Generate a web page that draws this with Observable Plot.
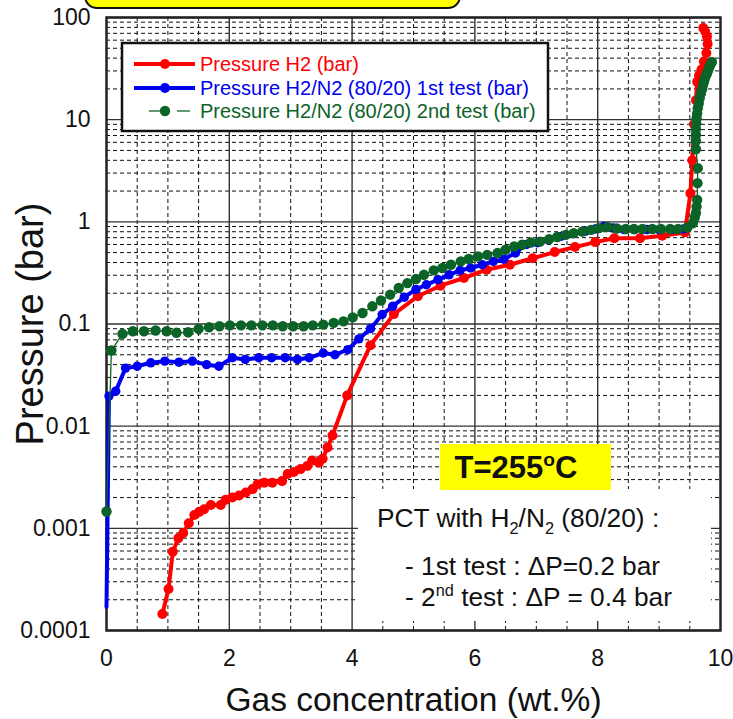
<!DOCTYPE html>
<html>
<head>
<meta charset="utf-8">
<script src="https://cdn.jsdelivr.net/npm/d3@7"></script>
<script src="https://cdn.jsdelivr.net/npm/@observablehq/plot@0.6"></script>
<style>
  html, body { margin: 0; padding: 0; background: #fff; }
  #chart svg { display: block; }
</style>
</head>
<body>
<div id="chart"></div>
<script>
// ---------- data ----------
const redX = [0.91,1.01,1.08,1.17,1.25,1.34,1.43,1.51,1.59,1.70,1.86,1.94,2.05,2.16,2.27,2.38,2.46,2.57,2.70,2.86,2.95,3.05,3.16,3.27,3.35,3.46,3.52,3.60,3.68,3.92,4.30,4.68,5.07,5.44,5.82,6.19,6.57,6.94,7.30,7.63,7.96,8.27,8.69,9.05,9.42,9.51,9.54,9.57,9.60,9.62,9.65,9.69,9.73,9.77,9.79,9.78,9.75,9.72];
const redY = [1.45e-4,2.55e-4,5.9e-4,8.0e-4,9.0e-4,1.12e-3,1.35e-3,1.45e-3,1.54e-3,1.69e-3,1.69e-3,1.9e-3,2.0e-3,2.1e-3,2.24e-3,2.42e-3,2.7e-3,2.8e-3,2.8e-3,2.9e-3,3.4e-3,3.56e-3,3.8e-3,4.07e-3,4.6e-3,4.4e-3,4.8e-3,6.2e-3,8.1e-3,0.020,0.062,0.125,0.187,0.237,0.282,0.34,0.38,0.44,0.506,0.566,0.633,0.69,0.69,0.73,0.786,1.9,4.0,9.0,15.5,23.5,27,31,37,45,55,65,73,79];

const blueX = [0,0.04,0.15,0.31,0.50,0.72,0.95,1.18,1.40,1.63,1.83,2.05,2.26,2.48,2.69,2.91,3.11,3.30,3.53,3.72,3.93,4.11,4.30,4.49,4.66,4.85,5.04,5.21,5.40,5.58,5.76,5.93,6.12,6.30,6.47,6.66,6.84,7.02,7.20,7.40,7.60,7.80,7.96,8.10,8.25,8.43,8.60,8.80,9.00,9.20,9.40];
const blueY = [1.7e-4,0.0197,0.022,0.037,0.0386,0.0417,0.0433,0.0423,0.0433,0.040,0.0386,0.0467,0.045,0.0467,0.0467,0.0467,0.045,0.0467,0.052,0.050,0.056,0.0715,0.09,0.124,0.149,0.183,0.218,0.242,0.272,0.303,0.335,0.353,0.38,0.41,0.43,0.495,0.60,0.625,0.665,0.72,0.765,0.81,0.85,0.90,0.87,0.84,0.84,0.84,0.84,0.84,0.85];

const greenX = [0,0.08,0.26,0.43,0.61,0.80,0.98,1.14,1.33,1.50,1.67,1.84,2.01,2.19,2.36,2.54,2.71,2.87,3.04,3.21,3.36,3.53,3.70,3.86,4.01,4.17,4.33,4.47,4.62,4.76,4.90,5.04,5.17,5.33,5.47,5.61,5.77,5.90,6.05,6.20,6.37,6.50,6.64,6.77,6.91,7.06,7.21,7.34,7.48,7.61,7.75,7.89,8.02,8.16,8.31,8.46,8.59,8.73,8.89,9.03,9.18,9.31,
  9.46,9.55,9.58,9.60,9.61,9.62,9.625,9.63,9.60,9.60,9.60,9.60,9.605,9.61,9.62,9.63,9.645,9.66,9.68,9.70,9.715,9.73,9.745,9.76,9.78,9.80,9.82,9.84,9.86];
const greenY = [0.00146,0.055,0.080,0.085,0.085,0.0863,0.085,0.082,0.083,0.0895,0.093,0.095,0.097,0.097,0.097,0.097,0.097,0.095,0.095,0.095,0.097,0.0986,0.1025,0.106,0.116,0.128,0.149,0.17,0.194,0.225,0.251,0.276,0.303,0.335,0.353,0.38,0.41,0.433,0.458,0.475,0.495,0.533,0.574,0.596,0.628,0.64,0.677,0.71,0.746,0.776,0.804,0.835,0.868,0.89,0.86,0.85,0.85,0.85,0.85,0.85,0.85,0.85,
  0.88,0.97,1.1,1.22,1.41,1.64,2.39,3.35,5.13,6.2,7.07,8.1,9.2,10.3,11.5,12.9,14.4,16.2,18,19.8,21.8,23.5,25.3,27,28.3,30.5,32.9,35,36.7];

const xTicks = [0, 2, 4, 6, 8, 10];
const xTickLabels = ["0", "2", "4", "6", "8", "10"];
const yTicks = [1e-4, 1e-3, 1e-2, 0.1, 1, 10, 100];
const yTickLabels = ["0.0001", "0.001", "0.01", "0.1", "1", "10", "100"];

const seriesNames = [
  "Pressure H2 (bar)",
  "Pressure H2/N2 (80/20) 1st test (bar)",
  "Pressure H2/N2 (80/20) 2nd test (bar)"
];
const xTitle = "Gas concentration (wt.%)";
const yTitle = "Pressure (bar)";
// rich-text parts: [text, "n" normal | "sub" | "sup"]
const tempLabel = [["T=255", "n"], ["o", "sup"], ["C", "n"]];
const noteLines = [
  [["PCT with H", "n"], ["2", "sub"], ["/N", "n"], ["2", "sub"], [" (80/20) :", "n"]],
  [["- 1st test : \u0394P=0.2 bar", "n"]],
  [["- 2", "n"], ["nd", "sup"], [" test : \u0394P = 0.4 bar", "n"]]
];

// ---------- styling ----------
const FONT = "'Liberation Sans', Arial, Helvetica, sans-serif";
const RED = "#ff0000", BLUE = "#0000f0", GREEN = "#0b6327";

const rows = (xs, ys) => xs.map((x, i) => ({x, y: ys[i]}));
const red = rows(redX, redY);
const blue = rows(blueX, blueY);
const green = rows(greenX, greenY);

const yMinor = d3.range(-4, 2).flatMap(e => d3.range(2, 10).map(m => m * Math.pow(10, e)));
const xMinor = d3.range(1, 20).map(k => k / 2).filter(v => v % 2 !== 0);
const xMajor = [2, 4, 6, 8];

const svg = Plot.plot({
  width: 733,
  height: 719,
  marginLeft: 106,
  marginRight: 13,
  marginTop: 17,
  marginBottom: 89,
  x: {domain: [0, 10], axis: null},
  y: {type: "log", domain: [1e-4, 100], axis: null},
  style: {fontFamily: FONT, background: "white", color: "#111"},
  marks: [
    Plot.ruleY(yMinor, {stroke: "#111", strokeWidth: 1, strokeDasharray: "4,3"}),
    Plot.ruleX(xMinor, {stroke: "#111", strokeWidth: 1, strokeDasharray: "4,3"}),
    Plot.ruleY(yTicks, {stroke: "#333", strokeWidth: 1.4}),
    Plot.ruleX(xMajor, {stroke: "#333", strokeWidth: 1.4}),
    Plot.frame({stroke: "#222", strokeWidth: 2.5}),
    Plot.line(red, {x: "x", y: "y", stroke: RED, strokeWidth: 4}),
    Plot.dot(red, {x: "x", y: "y", fill: RED, r: 5}),
    Plot.line(blue, {x: "x", y: "y", stroke: BLUE, strokeWidth: 4}),
    Plot.dot(blue.slice(1), {x: "x", y: "y", fill: BLUE, r: 4.7}),
    Plot.line(green, {x: "x", y: "y", stroke: GREEN, strokeWidth: 1.3}),
    Plot.dot(green, {x: "x", y: "y", fill: GREEN, r: 5.2}),
    Plot.text(yTicks, {y: d => d, text: (d, i) => yTickLabels[i], frameAnchor: "left", textAnchor: "end", lineAnchor: "middle", dx: -16, fontSize: 23, fill: "#111"}),
    Plot.text(xTicks, {x: d => d, text: (d, i) => xTickLabels[i], frameAnchor: "bottom", textAnchor: "middle", lineAnchor: "middle", dy: 28, fontSize: 23, fill: "#111"}),
    Plot.text([xTitle], {text: d => d, frameAnchor: "bottom", textAnchor: "middle", lineAnchor: "middle", dy: 70, fontSize: 33.5, fill: "#111"}),
    Plot.text([yTitle], {text: d => d, frameAnchor: "left", textAnchor: "middle", lineAnchor: "middle", dx: -76, rotate: -90, fontSize: 38, fill: "#111"})
  ]
});

// ---------- annotations & legend (drawn into the same SVG) ----------
const s = d3.select(svg);

function richText(g, parts, x, y, size, attrs) {
  const t = g.append("text").attr("x", x).attr("y", y)
    .attr("font-size", size).attr("font-family", FONT).attr("fill", "#111")
    .attr("text-anchor", "start");
  Object.entries(attrs || {}).forEach(([k, v]) => t.attr(k, v));
  let shift = 0;
  parts.forEach(([txt, mode]) => {
    const target = mode === "sub" ? size * 0.28 : mode === "sup" ? -size * 0.38 : 0;
    const ts = t.append("tspan").attr("dy", target - shift).text(txt);
    if (mode !== "n") ts.attr("font-size", size * 0.62);
    shift = target;
  });
  return t;
}

// top title box (cut off by the picture edge)
s.append("rect").attr("x", 85).attr("y", -22).attr("width", 375).attr("height", 30)
  .attr("rx", 12).attr("fill", "#ffff00").attr("stroke", "#111").attr("stroke-width", 2);

// white annotation panel
s.append("rect").attr("x", 358).attr("y", 489).attr("width", 353).attr("height", 132).attr("fill", "#fff");
// yellow temperature label
s.append("rect").attr("x", 440).attr("y", 444).attr("width", 171).attr("height", 46).attr("fill", "#ffff00");
richText(s, tempLabel, 516, 478, 31, {"font-weight": "bold", "text-anchor": "middle"});

richText(s, noteLines[0], 377, 527, 26.3);
richText(s, noteLines[1], 405, 575, 26.3);
richText(s, noteLines[2], 405, 606, 26.3);

// legend
const lg = s.append("g");
lg.append("rect").attr("x", 122).attr("y", 43).attr("width", 426).attr("height", 88)
  .attr("fill", "#fff").attr("stroke", "#111").attr("stroke-width", 2.5);
const legendColors = [RED, BLUE, GREEN];
const rowY = [64, 88, 111];
seriesNames.forEach((name, i) => {
  const y = rowY[i], c = legendColors[i];
  if (i < 2) {
    lg.append("line").attr("x1", 134).attr("x2", 195).attr("y1", y).attr("y2", y)
      .attr("stroke", c).attr("stroke-width", 4);
    lg.append("circle").attr("cx", 165).attr("cy", y).attr("r", 5).attr("fill", c);
  } else {
    lg.append("line").attr("x1", 149).attr("x2", 161).attr("y1", y).attr("y2", y)
      .attr("stroke", c).attr("stroke-width", 1.3);
    lg.append("line").attr("x1", 177).attr("x2", 190).attr("y1", y).attr("y2", y)
      .attr("stroke", c).attr("stroke-width", 1.3);
    lg.append("circle").attr("cx", 165).attr("cy", y).attr("r", 5.2).attr("fill", c);
  }
  lg.append("text").attr("x", 200).attr("y", y + 7).attr("font-size", 20)
    .attr("font-family", FONT).attr("fill", c).attr("text-anchor", "start").text(name);
});

document.getElementById("chart").appendChild(svg);
</script>
</body>
</html>
